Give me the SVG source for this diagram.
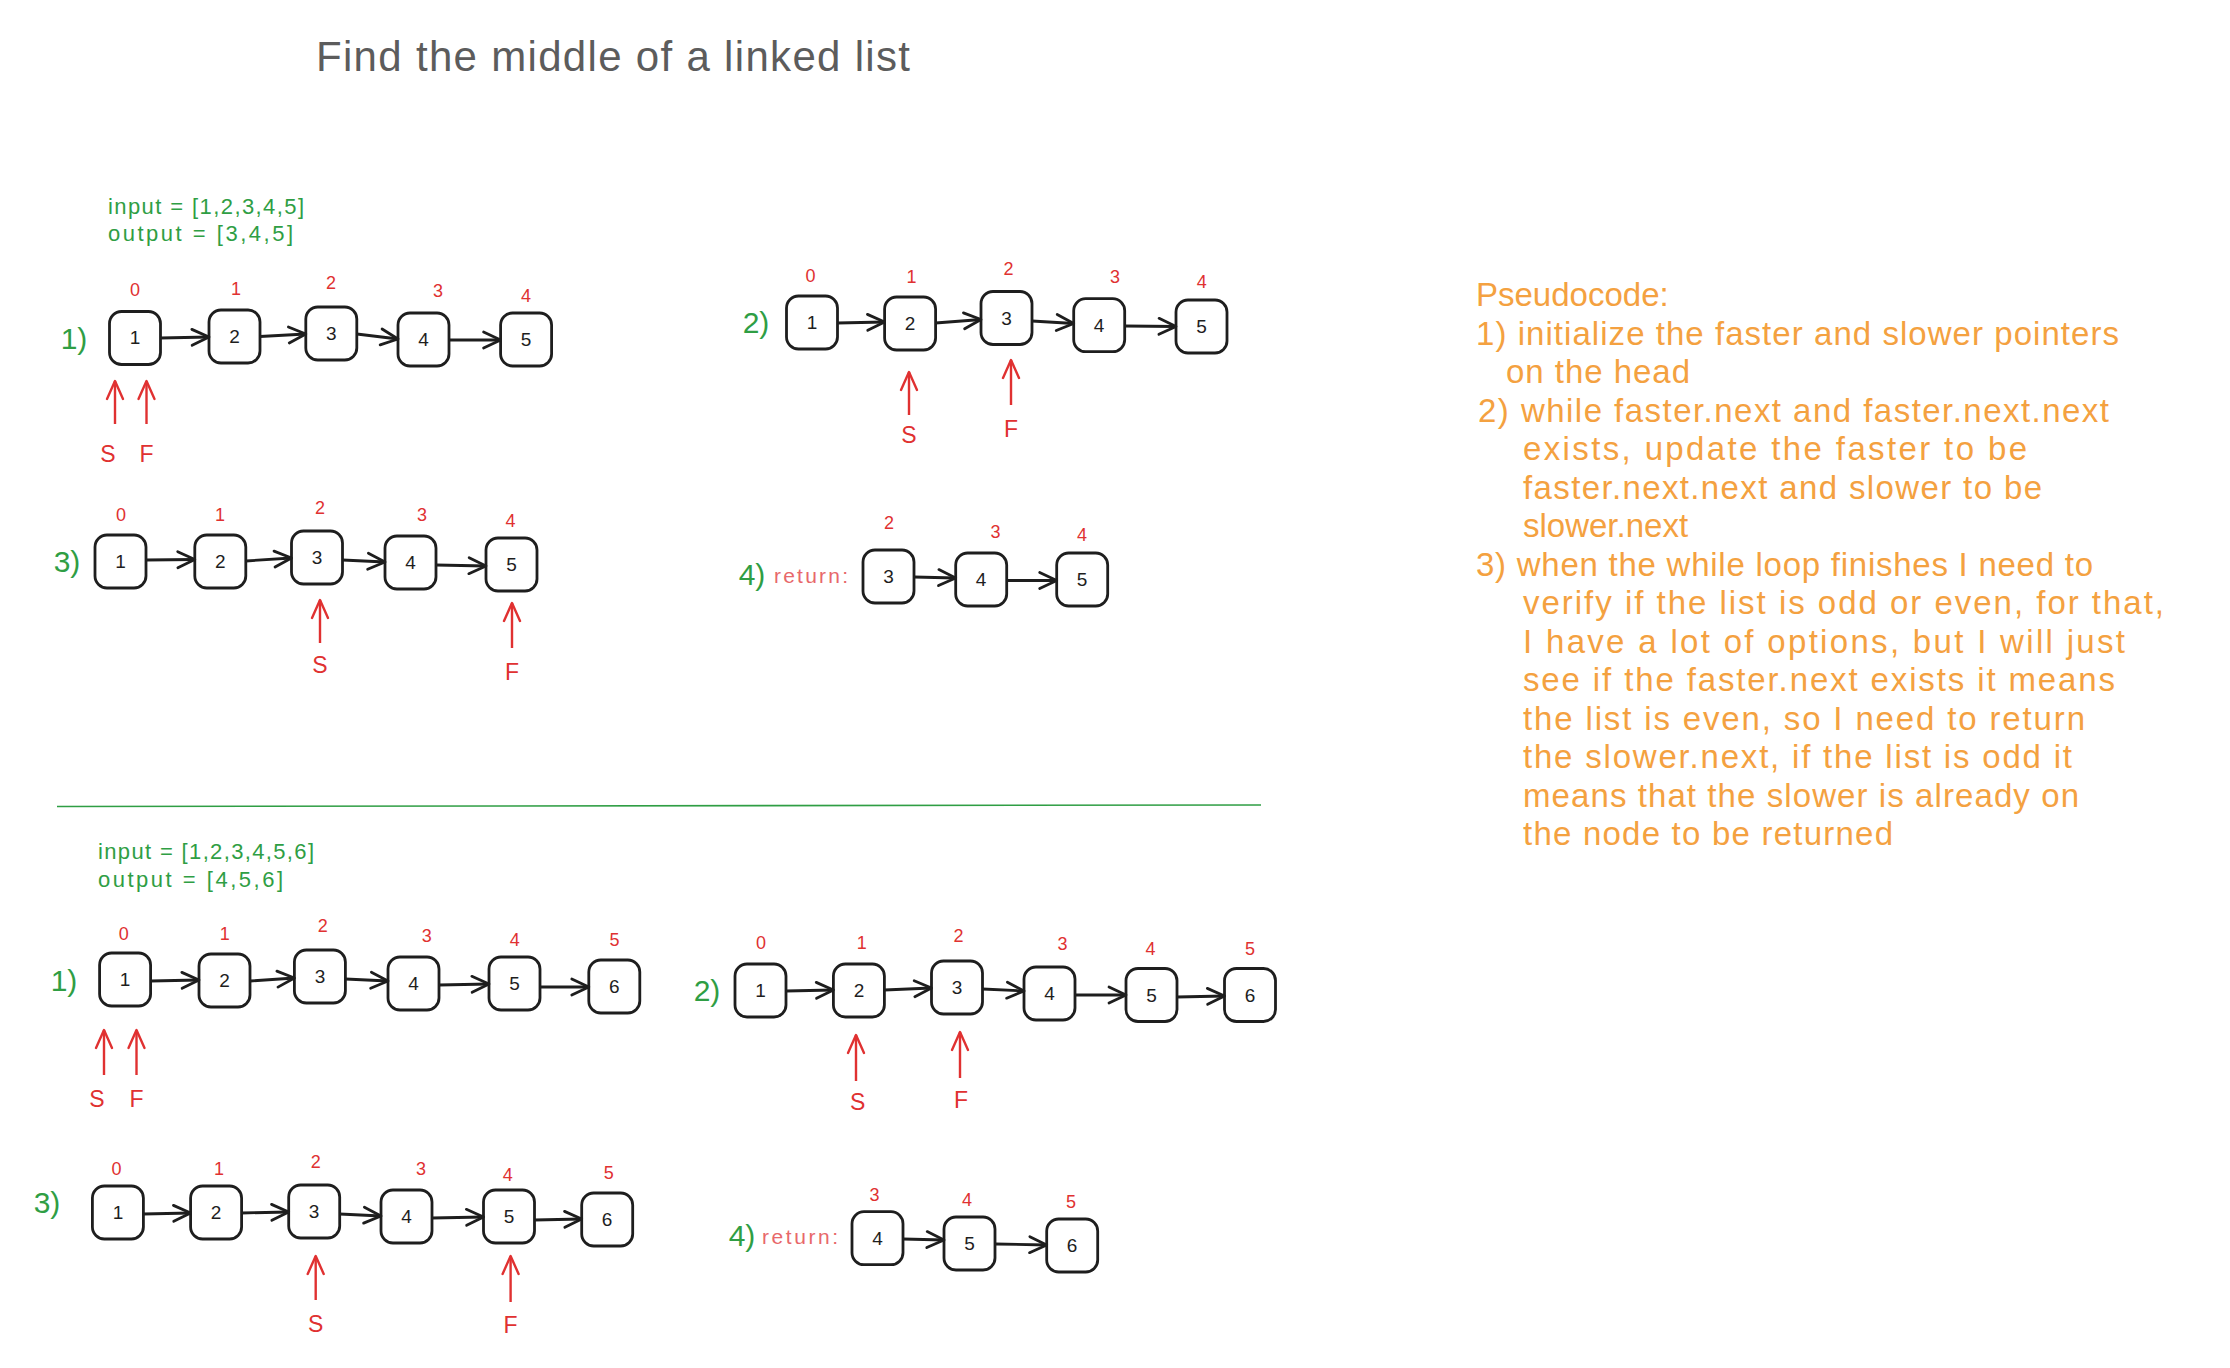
<svg xmlns="http://www.w3.org/2000/svg" width="2230" height="1368" viewBox="0 0 2230 1368">
<defs>
<style>
text{font-family:"Liberation Sans",Arial,sans-serif}
.box{fill:#fff;stroke:#1e1e1e;stroke-width:2.8}
.num{font-size:19px;fill:#1e1e1e;text-anchor:middle}
.idx{font-size:18px;fill:#e03131;text-anchor:middle}
.step{font-size:30px;fill:#2f9e44;text-anchor:middle}
.lbl{font-size:23px;fill:#e03131;text-anchor:middle}
.ret{font-size:21px;fill:#e8686a}
.io{font-size:22px;fill:#2f9e44}
.code{font-size:33px;fill:#f4a140}
.conn{stroke:#1e1e1e;stroke-width:2.8;fill:none;marker-end:url(#ah)}
.ptr{stroke:#e03131;stroke-width:2.4;fill:none;marker-end:url(#ahr)}
</style>
<marker id="ah" markerUnits="userSpaceOnUse" markerWidth="22" markerHeight="22" viewBox="0 0 22 22" refX="20" refY="11" orient="auto"><path d="M3,3 L20,11 L3,19" fill="none" stroke="#1e1e1e" stroke-width="2.8" stroke-linecap="round" stroke-linejoin="round"/></marker>
<marker id="ahr" markerUnits="userSpaceOnUse" markerWidth="22" markerHeight="22" viewBox="0 0 22 22" refX="20" refY="11" orient="auto"><path d="M2,3 L20,11 L2,19" fill="none" stroke="#e03131" stroke-width="2.4" stroke-linecap="round" stroke-linejoin="round"/></marker>
</defs>
<rect width="2230" height="1368" fill="#ffffff"/>

<text id="title" x="316" y="71" font-size="42" fill="#5c5c5c" textLength="594">Find the middle of a linked list</text>

<g id="io1">
<text class="io" x="108" y="214" textLength="196">input = [1,2,3,4,5]</text>
<text class="io" x="108" y="241" textLength="185">output = [3,4,5]</text>
</g>
<g id="io2">
<text class="io" x="98" y="859" textLength="216">input = [1,2,3,4,5,6]</text>
<text class="io" x="98" y="887" textLength="185">output = [4,5,6]</text>
</g>

<g id="steps">
<text class="step" x="74" y="349">1)</text>
<text class="step" x="756" y="333">2)</text>
<text class="step" x="67" y="572">3)</text>
<text class="step" x="752" y="585">4)</text>
<text class="ret" x="774" y="583" textLength="74">return:</text>
<text class="step" x="64" y="991">1)</text>
<text class="step" x="707" y="1001">2)</text>
<text class="step" x="47" y="1213">3)</text>
<text class="step" x="742" y="1246">4)</text>
<text class="ret" x="762" y="1244" textLength="76">return:</text>
</g>

<line id="separator" x1="57" y1="806.5" x2="1261" y2="805" stroke="#2f9e44" stroke-width="1.6"/>

<!-- Row 1 -->
<g id="r1n1"><rect class="box" x="109.5" y="311.5" width="51" height="53" rx="12"/><text class="num" x="135" y="344">1</text><text class="idx" x="135" y="296">0</text></g>
<g id="r1n2"><rect class="box" x="209" y="310" width="51" height="53" rx="12"/><text class="num" x="234.5" y="343">2</text><text class="idx" x="236" y="295">1</text></g>
<g id="r1n3"><rect class="box" x="305.8" y="307" width="51" height="53" rx="12"/><text class="num" x="331.3" y="340">3</text><text class="idx" x="331" y="289">2</text></g>
<g id="r1n4"><rect class="box" x="398" y="313" width="51" height="53" rx="12"/><text class="num" x="423.5" y="346">4</text><text class="idx" x="438" y="297">3</text></g>
<g id="r1n5"><rect class="box" x="500.6" y="313" width="51" height="53" rx="12"/><text class="num" x="526" y="346">5</text><text class="idx" x="526" y="302">4</text></g>

<!-- Row 2 -->
<g id="r2n1"><rect class="box" x="786.5" y="296" width="51" height="53" rx="12"/><text class="num" x="812" y="329">1</text><text class="idx" x="810.6" y="282">0</text></g>
<g id="r2n2"><rect class="box" x="884.6" y="297" width="51" height="53" rx="12"/><text class="num" x="910" y="330">2</text><text class="idx" x="911.6" y="283">1</text></g>
<g id="r2n3"><rect class="box" x="981" y="291.5" width="51" height="53" rx="12"/><text class="num" x="1006.5" y="324.5">3</text><text class="idx" x="1008.4" y="275">2</text></g>
<g id="r2n4"><rect class="box" x="1073.7" y="298.7" width="51" height="53" rx="12"/><text class="num" x="1099" y="331.5">4</text><text class="idx" x="1115" y="283">3</text></g>
<g id="r2n5"><rect class="box" x="1176" y="300" width="51" height="53" rx="12"/><text class="num" x="1201.5" y="333">5</text><text class="idx" x="1201.8" y="287.6">4</text></g>

<!-- Row 3 -->
<g id="r3n1"><rect class="box" x="95" y="535" width="51" height="53" rx="12"/><text class="num" x="120.5" y="568">1</text><text class="idx" x="121" y="521">0</text></g>
<g id="r3n2"><rect class="box" x="194.8" y="535" width="51" height="53" rx="12"/><text class="num" x="220.3" y="568">2</text><text class="idx" x="220" y="521">1</text></g>
<g id="r3n3"><rect class="box" x="291.5" y="531" width="51" height="53" rx="12"/><text class="num" x="317" y="564">3</text><text class="idx" x="320" y="514">2</text></g>
<g id="r3n4"><rect class="box" x="385" y="536" width="51" height="53" rx="12"/><text class="num" x="410.5" y="569">4</text><text class="idx" x="422" y="521">3</text></g>
<g id="r3n5"><rect class="box" x="486" y="538" width="51" height="53" rx="12"/><text class="num" x="511.5" y="571">5</text><text class="idx" x="510.6" y="526.5">4</text></g>

<!-- Row 4 -->
<g id="r4n1"><rect class="box" x="863" y="550" width="51" height="53" rx="12"/><text class="num" x="888.5" y="583">3</text><text class="idx" x="889" y="529">2</text></g>
<g id="r4n2"><rect class="box" x="955.7" y="553" width="51" height="53" rx="12"/><text class="num" x="981" y="586">4</text><text class="idx" x="995.5" y="538">3</text></g>
<g id="r4n3"><rect class="box" x="1056.7" y="553" width="51" height="53" rx="12"/><text class="num" x="1082" y="586">5</text><text class="idx" x="1082" y="541">4</text></g>

<!-- Row 5 -->
<g id="r5n1"><rect class="box" x="99.6" y="953" width="51" height="53" rx="12"/><text class="num" x="125" y="986">1</text><text class="idx" x="123.7" y="940">0</text></g>
<g id="r5n2"><rect class="box" x="199" y="954" width="51" height="53" rx="12"/><text class="num" x="224.5" y="987">2</text><text class="idx" x="224.7" y="940">1</text></g>
<g id="r5n3"><rect class="box" x="294.4" y="950" width="51" height="53" rx="12"/><text class="num" x="320" y="983">3</text><text class="idx" x="322.8" y="932">2</text></g>
<g id="r5n4"><rect class="box" x="388" y="957" width="51" height="53" rx="12"/><text class="num" x="413.5" y="990">4</text><text class="idx" x="426.7" y="942">3</text></g>
<g id="r5n5"><rect class="box" x="489" y="957" width="51" height="53" rx="12"/><text class="num" x="514.5" y="990">5</text><text class="idx" x="514.8" y="946">4</text></g>
<g id="r5n6"><rect class="box" x="588.8" y="960" width="51" height="53" rx="12"/><text class="num" x="614.3" y="993">6</text><text class="idx" x="614.4" y="946">5</text></g>

<!-- Row 6 -->
<g id="r6n1"><rect class="box" x="735" y="964" width="51" height="53" rx="12"/><text class="num" x="760.5" y="997">1</text><text class="idx" x="760.9" y="949">0</text></g>
<g id="r6n2"><rect class="box" x="833.4" y="964" width="51" height="53" rx="12"/><text class="num" x="859" y="997">2</text><text class="idx" x="861.8" y="949">1</text></g>
<g id="r6n3"><rect class="box" x="931.5" y="961" width="51" height="53" rx="12"/><text class="num" x="957" y="994">3</text><text class="idx" x="958.6" y="942">2</text></g>
<g id="r6n4"><rect class="box" x="1024" y="967" width="51" height="53" rx="12"/><text class="num" x="1049.5" y="1000">4</text><text class="idx" x="1062.4" y="950">3</text></g>
<g id="r6n5"><rect class="box" x="1126" y="968.5" width="51" height="53" rx="12"/><text class="num" x="1151.5" y="1001.5">5</text><text class="idx" x="1150.5" y="954.6">4</text></g>
<g id="r6n6"><rect class="box" x="1224.5" y="968.5" width="51" height="53" rx="12"/><text class="num" x="1250" y="1001.5">6</text><text class="idx" x="1250" y="954.6">5</text></g>

<!-- Row 7 -->
<g id="r7n1"><rect class="box" x="92.4" y="1186" width="51" height="53" rx="12"/><text class="num" x="118" y="1219">1</text><text class="idx" x="116.6" y="1175">0</text></g>
<g id="r7n2"><rect class="box" x="190.6" y="1186" width="51" height="53" rx="12"/><text class="num" x="216" y="1219">2</text><text class="idx" x="219" y="1175">1</text></g>
<g id="r7n3"><rect class="box" x="288.7" y="1185" width="51" height="53" rx="12"/><text class="num" x="314" y="1218">3</text><text class="idx" x="315.7" y="1168">2</text></g>
<g id="r7n4"><rect class="box" x="381" y="1190" width="51" height="53" rx="12"/><text class="num" x="406.5" y="1223">4</text><text class="idx" x="421" y="1175">3</text></g>
<g id="r7n5"><rect class="box" x="483.5" y="1190" width="51" height="53" rx="12"/><text class="num" x="509" y="1223">5</text><text class="idx" x="507.7" y="1180.7">4</text></g>
<g id="r7n6"><rect class="box" x="581.7" y="1193" width="51" height="53" rx="12"/><text class="num" x="607" y="1226">6</text><text class="idx" x="608.7" y="1179.3">5</text></g>

<!-- Row 8 -->
<g id="r8n1"><rect class="box" x="852" y="1211.7" width="51" height="53" rx="12"/><text class="num" x="877.5" y="1244.5">4</text><text class="idx" x="874.6" y="1200.6">3</text></g>
<g id="r8n2"><rect class="box" x="944" y="1217" width="51" height="53" rx="12"/><text class="num" x="969.5" y="1250">5</text><text class="idx" x="967" y="1206">4</text></g>
<g id="r8n3"><rect class="box" x="1046.7" y="1219" width="51" height="53" rx="12"/><text class="num" x="1072" y="1252">6</text><text class="idx" x="1071" y="1207.7">5</text></g>

<g id="connectors">
<line class="conn" x1="160.5" y1="338" x2="209" y2="337"/>
<line class="conn" x1="260" y1="336.5" x2="305.8" y2="334"/>
<line class="conn" x1="356.8" y1="334" x2="398" y2="339"/>
<line class="conn" x1="449" y1="340" x2="500.6" y2="340"/>

<line class="conn" x1="837.5" y1="323" x2="884.6" y2="322"/>
<line class="conn" x1="935.6" y1="323" x2="981" y2="319.5"/>
<line class="conn" x1="1032" y1="321" x2="1073.7" y2="323.5"/>
<line class="conn" x1="1124.7" y1="326" x2="1176" y2="326.5"/>

<line class="conn" x1="146" y1="560" x2="194.8" y2="559.5"/>
<line class="conn" x1="245.8" y1="561" x2="291.5" y2="558"/>
<line class="conn" x1="342.5" y1="560" x2="385" y2="562"/>
<line class="conn" x1="436" y1="565" x2="486" y2="566"/>

<line class="conn" x1="914" y1="577" x2="955.7" y2="578"/>
<line class="conn" x1="1006.7" y1="580.5" x2="1056.7" y2="580.5"/>

<line class="conn" x1="150.6" y1="981" x2="199" y2="980"/>
<line class="conn" x1="250" y1="981" x2="294.4" y2="978"/>
<line class="conn" x1="345.4" y1="979" x2="388" y2="981"/>
<line class="conn" x1="439" y1="985" x2="489" y2="984"/>
<line class="conn" x1="540" y1="987" x2="588.8" y2="987"/>

<line class="conn" x1="786" y1="991" x2="833.4" y2="990"/>
<line class="conn" x1="884.4" y1="990" x2="931.5" y2="988"/>
<line class="conn" x1="982.5" y1="989" x2="1024" y2="991"/>
<line class="conn" x1="1075" y1="995" x2="1126" y2="995"/>
<line class="conn" x1="1177" y1="997" x2="1224.5" y2="996"/>

<line class="conn" x1="143.4" y1="1214" x2="190.6" y2="1213"/>
<line class="conn" x1="241.6" y1="1213" x2="288.7" y2="1212"/>
<line class="conn" x1="339.7" y1="1214" x2="381" y2="1216"/>
<line class="conn" x1="432" y1="1218" x2="483.5" y2="1217"/>
<line class="conn" x1="534.5" y1="1220" x2="581.7" y2="1219"/>

<line class="conn" x1="903" y1="1239" x2="944" y2="1240"/>
<line class="conn" x1="995.5" y1="1244" x2="1046.7" y2="1245"/>

<line class="ptr" x1="115" y1="424" x2="115" y2="381"/>
<line class="ptr" x1="146.5" y1="424" x2="146.5" y2="381"/>
<line class="ptr" x1="909" y1="415" x2="909" y2="372"/>
<line class="ptr" x1="1011" y1="405" x2="1011" y2="360"/>
<line class="ptr" x1="320" y1="643" x2="320" y2="600"/>
<line class="ptr" x1="512" y1="648" x2="512" y2="603"/>
<line class="ptr" x1="104" y1="1075" x2="104" y2="1030"/>
<line class="ptr" x1="136.5" y1="1075" x2="136.5" y2="1030"/>
<line class="ptr" x1="856" y1="1081" x2="856" y2="1035"/>
<line class="ptr" x1="960" y1="1078" x2="960" y2="1032"/>
<line class="ptr" x1="315.7" y1="1300" x2="315.7" y2="1256"/>
<line class="ptr" x1="510.6" y1="1302" x2="510.6" y2="1256"/>
</g>

<g id="pointer-labels">
<text class="lbl" x="108" y="462">S</text>
<text class="lbl" x="146.5" y="462">F</text>
<text class="lbl" x="909" y="443">S</text>
<text class="lbl" x="1011" y="437">F</text>
<text class="lbl" x="320" y="673">S</text>
<text class="lbl" x="512" y="680">F</text>
<text class="lbl" x="97" y="1107">S</text>
<text class="lbl" x="136.5" y="1107">F</text>
<text class="lbl" x="857.6" y="1110">S</text>
<text class="lbl" x="961" y="1108">F</text>
<text class="lbl" x="315.7" y="1332">S</text>
<text class="lbl" x="510.6" y="1333">F</text>
</g>

<g id="pseudocode">
<text class="code" x="1476" y="306">Pseudocode:</text>
<text class="code" x="1476" y="344.5" textLength="643">1) initialize the faster and slower pointers</text>
<text class="code" x="1506" y="383" textLength="184">on the head</text>
<text class="code" x="1478" y="421.5" textLength="631">2) while faster.next and faster.next.next</text>
<text class="code" x="1523" y="460" textLength="504">exists, update the faster to be</text>
<text class="code" x="1523" y="498.5" textLength="519">faster.next.next and slower to be</text>
<text class="code" x="1523" y="537">slower.next</text>
<text class="code" x="1476" y="575.5" textLength="617">3) when the while loop finishes I need to</text>
<text class="code" x="1523" y="614" textLength="641">verify if the list is odd or even, for that,</text>
<text class="code" x="1523" y="652.5" textLength="602">I have a lot of options, but I will just</text>
<text class="code" x="1523" y="691" textLength="592">see if the faster.next exists it means</text>
<text class="code" x="1523" y="729.5" textLength="562">the list is even, so I need to return</text>
<text class="code" x="1523" y="768" textLength="549">the slower.next, if the list is odd it</text>
<text class="code" x="1523" y="806.5" textLength="556">means that the slower is already on</text>
<text class="code" x="1523" y="845" textLength="370">the node to be returned</text>
</g>
</svg>
